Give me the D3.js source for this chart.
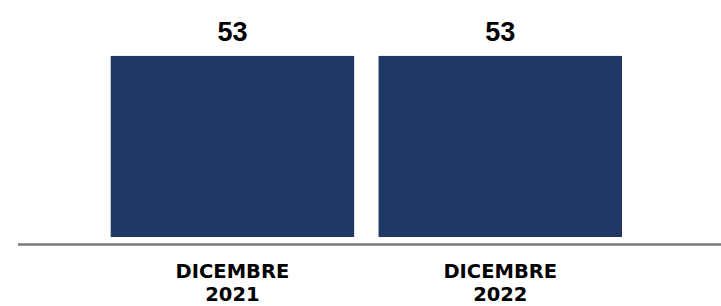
<!DOCTYPE html>
<html>
<head>
  <meta charset="utf-8">
  <title>Dicembre 2021 - 2022</title>
  <script type="text/javascript" src="https://cdn.jsdelivr.net/npm/d3@7"></script>
  <style>
    body { margin: 0; background: #fff; }
  </style>
</head>
<body>
<div id="chart"></div>

<script type="text/javascript">
  var months = ['DICEMBRE', 'DICEMBRE'];
  var years = ['2021', '2022'];
  var values = [53, 53];

  var w = 721;
  var h = 306;
  var svg = d3.select('#chart').append('svg')
    .attr('width', w)
    .attr('height', h);

  var x = d3.scaleBand()
    .domain(years)
    .range([110.7, 622])
    .paddingInner(0.091)
    .paddingOuter(0);

  var y = d3.scaleLinear()
    .domain([0, 60])
    .range([237, 32]);

  // bars
  svg.selectAll('rect')
    .data(values)
    .enter()
    .append('rect')
    .attr('x', function(d, i) { return x(years[i]); })
    .attr('y', function(d) { return y(d); })
    .attr('width', x.bandwidth())
    .attr('height', function(d) { return y(0) - y(d); })
    .attr('fill', '#203864');

  // value labels
  svg.selectAll('text.val')
    .data(values)
    .enter()
    .append('text')
    .attr('class', 'val')
    .text(function(d) { return d; })
    .attr('x', function(d, i) { return x(years[i]) + x.bandwidth() / 2; })
    .attr('y', function(d) { return y(d) - 15; })
    .attr('text-anchor', 'middle')
    .attr('font-family', 'Liberation Sans, Arial, sans-serif')
    .attr('font-weight', 'bold')
    .attr('font-size', '27px')
    .attr('fill', '#000');

  // baseline
  svg.append('line')
    .attr('x1', 18)
    .attr('x2', w)
    .attr('y1', y(0) + 7.5)
    .attr('y2', y(0) + 7.5)
    .attr('stroke', '#7a7a7a')
    .attr('stroke-width', 2.5);

  // category labels
  var cat = svg.selectAll('text.cat')
    .data(years)
    .enter()
    .append('text')
    .attr('class', 'cat')
    .attr('text-anchor', 'middle')
    .attr('font-family', 'DejaVu Sans, sans-serif')
    .attr('font-weight', 'bold')
    .attr('font-size', '19.5px')
    .attr('fill', '#000');
  cat.append('tspan')
    .attr('x', function(d) { return x(d) + x.bandwidth() / 2; })
    .attr('y', y(0) + 41)
    .text(function(d, i) { return months[i]; });
  cat.append('tspan')
    .attr('x', function(d) { return x(d) + x.bandwidth() / 2; })
    .attr('y', y(0) + 64)
    .text(function(d) { return d; });
</script>

</body>
</html>
